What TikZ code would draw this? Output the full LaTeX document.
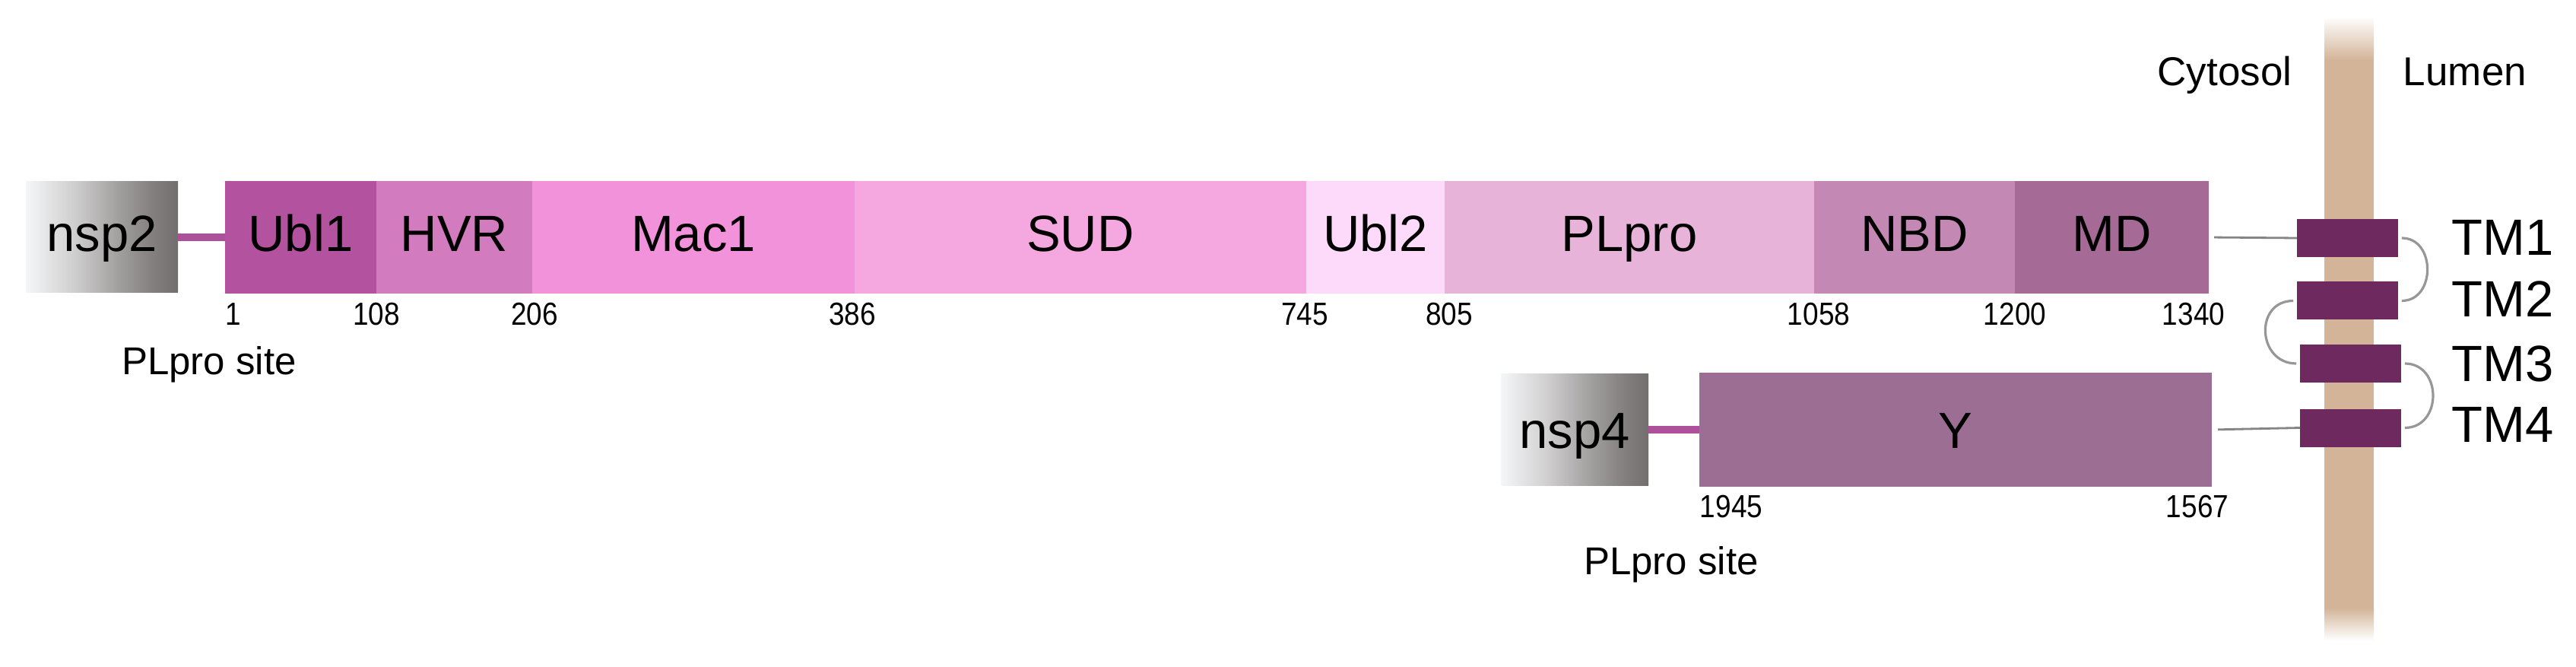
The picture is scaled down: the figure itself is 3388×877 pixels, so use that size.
\documentclass[tikz,border=0pt]{standalone}
\usepackage{fontspec}
\setmainfont{Liberation Sans}
\newfontfamily\numfont[FakeStretch=0.88]{Liberation Sans}
\definecolor{cUbl}{HTML}{B3529F}
\definecolor{cHVR}{HTML}{D37BBF}
\definecolor{cMac}{HTML}{F292DA}
\definecolor{cSUD}{HTML}{F5A7E0}
\definecolor{cUblB}{HTML}{FDD9FA}
\definecolor{cPLpro}{HTML}{E8B3D9}
\definecolor{cNBD}{HTML}{C389B4}
\definecolor{cMD}{HTML}{A56A96}
\definecolor{cY}{HTML}{9D6E93}
\definecolor{cTM}{HTML}{6E295F}
\definecolor{cMemb}{HTML}{D3B498}
\definecolor{cLine}{HTML}{858585}
\definecolor{cConn}{HTML}{AD519B}
\definecolor{nspL}{HTML}{F4F6F8}
\definecolor{nspA}{HTML}{D2D1D1}
\definecolor{nspM}{HTML}{A3A0A0}
\definecolor{nspB}{HTML}{858181}
\definecolor{nspD}{HTML}{726E6D}
\pgfdeclarehorizontalshading{nspshade}{100bp}{color(0bp)=(nspL); color(25bp)=(nspL); color(40bp)=(nspA); color(55bp)=(nspM); color(66bp)=(nspB); color(75bp)=(nspD); color(100bp)=(nspD)}
\begin{document}
\begin{tikzpicture}[x=0.25pt,y=-0.25pt,
  dom/.style={rectangle, inner sep=0pt, outer sep=0pt, minimum height=37pt,
    text height=12pt, text depth=2.5pt, font=\fontsize{16.75}{20}\selectfont},
  domb/.style={dom, text depth=-1pt},
  nspbox/.style={shade, shading=nspshade, minimum width=50pt, minimum height=36.5pt},
  num/.style={anchor=base, inner sep=0pt, font=\numfont\fontsize{10.5}{12}\selectfont},
  site/.style={anchor=base, inner sep=0pt, font=\fontsize{12.75}{15}\selectfont},
  side/.style={anchor=base, inner sep=0pt, font=\fontsize{13.25}{16}\selectfont},
  tmbox/.style={rectangle, fill=cTM, inner sep=0pt, outer sep=0pt, minimum width=33.25pt, minimum height=12.5pt},
  tmlab/.style={anchor=base west, inner sep=0pt, font=\fontsize{16.75}{19}\selectfont},
  link/.style={draw=cConn, line width=2.4pt},
  thinline/.style={draw=cLine, line width=0.7pt},
  loopline/.style={draw=cLine!85, line width=0.8pt}]
\useasboundingbox[fill=white] (0,0) rectangle (3388,877);

% membrane
\fill[cMemb] (3057,78) rectangle (3122,800);
\shade[top color=white, bottom color=cMemb] (3057,22) rectangle (3122,79);
\shade[top color=cMemb, bottom color=white] (3057,799) rectangle (3122,842);
\node[side] (cyto) at (2926,113) {Cytosol};
\node[side] (lumen) at (3242,113) {Lumen};

% main bar
\node[dom, nspbox] (nsp2) at (134,312) {nsp2};
\node[dom, fill=cUbl, minimum width=49.75pt] (ubl1) at (395.5,312) {Ubl1};
\node[dom, fill=cHVR, minimum width=51.25pt] (hvr) at (597.5,312) {HVR};
\node[dom, fill=cMac, minimum width=106pt] (mac1) at (912,312) {Mac1};
\node[dom, fill=cSUD, minimum width=148.5pt] (sud) at (1421,312) {SUD};
\node[dom, fill=cUblB, minimum width=45.5pt] (ubl2) at (1809,312) {Ubl2};
\node[dom, fill=cPLpro, minimum width=121.5pt] (plpro) at (2143,312) {PLpro};
\node[dom, fill=cNBD, minimum width=66pt] (nbd) at (2518,312) {NBD};
\node[dom, fill=cMD, minimum width=63.75pt] (md) at (2777.5,312) {MD};
\draw[link] (nsp2.east) -- (ubl1.west);

% numbers
\node[num] (n1) at (307,427) {1};
\node[num] (n108) at (495,427) {108};
\node[num] (n206) at (703,427) {206};
\node[num] (n386) at (1121,427) {386};
\node[num] (n745) at (1716,427) {745};
\node[num] (n805) at (1906,427) {805};
\node[num] (n1058) at (2392,427) {1058};
\node[num] (n1200) at (2650,427) {1200};
\node[num] (n1340) at (2885,427) {1340};
\node[site] (site1) at (275,493) {PLpro site};

% second row
\node[domb, nspbox, minimum width=48.5pt] (nsp4) at (2071,565) {nsp4};
\node[domb, fill=cY, minimum width=168.5pt, minimum height=37.5pt] (ybox) at (2572,565) {Y};
\draw[link] (nsp4.east) -- (ybox.west);
\node[num] (n1945) at (2277,680) {1945};
\node[num] (n1567) at (2890,680) {1567};
\node[site] (site2) at (2198,755) {PLpro site};

% transmembrane segments
\node[tmbox] (tm1) at (3087.5,313) {};
\node[tmbox] (tm2) at (3087.5,395.5) {};
\node[tmbox] (tm3) at (3091.5,478) {};
\node[tmbox] (tm4) at (3091.5,562.5) {};
\node[tmlab] (l1) at (3224,336) {TM1};
\node[tmlab] (l2) at (3224,417) {TM2};
\node[tmlab] (l3) at (3224,501) {TM3};
\node[tmlab] (l4) at (3224,582) {TM4};

\draw[thinline, shorten <=1.75pt] (md.east) -- (tm1.west);
\draw[thinline, shorten <=2pt] (ybox.east) -- (tm4.west);
\draw[loopline, shorten <=1.2pt, shorten >=1.2pt] (tm1.east) to[out=0,in=0,looseness=1.55] (tm2.east);
\draw[loopline, shorten <=1.2pt, shorten >=1.2pt] (tm2.west) to[out=180,in=180,looseness=1.75] (tm3.west);
\draw[loopline, shorten <=1.2pt, shorten >=1.2pt] (tm3.east) to[out=0,in=0,looseness=1.65] (tm4.east);
\end{tikzpicture}
\end{document}
